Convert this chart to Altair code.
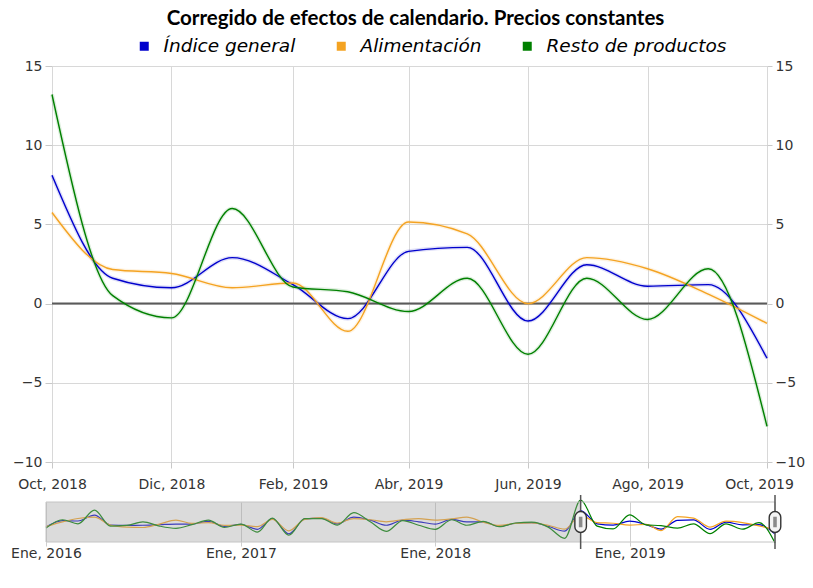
import altair as alt
import pandas as pd

# ---------------- data ----------------
series = ["Índice general", "Alimentación", "Resto de productos"]
colores = ["#0000cc", "#f4a322", "#008000"]

# months Jan 2016 .. Oct 2019
fechas = [f"{y}-{m:02d}-01T00:00:00" for y in range(2016, 2020) for m in range(1, 13)][:46]

indice = [0.0, 3.2, 3.0, 5.9, 1.0, 0.8, 0.9, 1.2, 1.5, 1.5, 2.8, 0.4,
          1.3, -1.1, 4.2, -3.3, 4.0, 4.4, 1.6, 4.9, 3.4, 0.9, 3.4, 2.6,
          1.5, 3.8, 2.6, 2.6, 0.4, 1.9, 2.2, 0.4, -2.0,
          8.1, 1.6, 1.0, 2.9, 1.2, -0.95, 3.3, 3.55, -1.1, 2.45, 1.1, 1.2, -3.45]
alimentacion = [0.3, 2.6, 4.2, 4.9, 1.0, 0.0, -0.2, 1.5, 3.4, 1.8, 2.2, 0.8,
                1.0, 0.2, 3.8, -1.8, 3.8, 4.6, 2.0, 4.2, 3.6, 2.6, 3.6, 4.2,
                3.4, 4.0, 4.9, 2.4, 0.8, 1.8, 2.0, 0.9, -1.0,
                5.75, 2.15, 1.9, 1.0, 1.3, -1.75, 5.15, 4.4, 0.0, 2.9, 2.2, 0.6, -1.25]
resto = [-0.5, 3.6, 1.6, 8.3, 0.5, 0.8, 2.6, 0.5, -0.6, 1.2, 3.4, -0.2,
         1.5, -2.5, 4.4, -4.0, 4.2, 4.2, 1.0, 7.1, 2.6, -2.1, 3.2, 0.9,
         -1.1, 3.6, 0.9, 2.8, 0.2, 2.0, 2.4, 0.0, -5.5,
         13.2, 0.5, -0.9, 6.0, 1.05, 0.75, -0.5, 1.6, -3.2, 1.6, -1.0, 2.2, -7.75]

inicio_zoom = "2018-10-01T00:00:00"
fin_zoom = "2019-10-01T00:00:00"

rows = []
for i, f in enumerate(fechas):
    for s, vals in zip(series, [indice, alimentacion, resto]):
        rows.append({"fecha": f, "serie": s, "valor": vals[i]})
nav_df = pd.DataFrame(rows)
main_df = nav_df[nav_df["fecha"] >= inicio_zoom].reset_index(drop=True)

LABEL = ("['Ene','Feb','Mar','Abr','May','Jun','Jul','Ago','Sep','Oct','Nov','Dic']"
         "[month(datum.value)] + ', ' + year(datum.value)")
FONT = "DejaVu Sans"
GRID = "#d8d8d8"
W = 715


def DT(y, m):
    return alt.DateTime(year=y, month=m, date=1)


color_scale = alt.Scale(domain=series, range=colores)
legend = alt.Legend(orient="none", legendX=83, legendY=-29,
                    direction="horizontal", title=None, gridAlign="none",
                    symbolType="M-1,0L1,0", symbolSize=81,
                    symbolStrokeWidth=9, symbolOpacity=1,
                    labelFont=FONT, labelFontSize=18.5, labelLimit=400,
                    labelFontStyle="italic", labelColor="#000000",
                    labelOffset=10, columnPadding=22, padding=0)
color_enc = alt.Color("serie:N", scale=color_scale, legend=legend)

# ---------------- main chart ----------------
x_main = alt.X(
    "fecha:T",
    scale=alt.Scale(domain=[DT(2018, 10), DT(2019, 10)]),
    axis=alt.Axis(values=[DT(2018, 10), DT(2018, 12), DT(2019, 2), DT(2019, 4),
                          DT(2019, 6), DT(2019, 8), DT(2019, 10)],
                  labelExpr=LABEL, title=None, grid=True, gridColor=GRID,
                  domain=False, tickSize=6, tickColor="#c8c8c8", labelPadding=9,
                  labelFont=FONT, labelFontSize=14, labelColor="#333333",
                  labelOffset={"condition": {"test": "year(datum.value) == 2019 && month(datum.value) == 9",
                                             "value": -8},
                               "value": 0},
                  labelFlush=False, labelOverlap=False),
)
y_scale = alt.Scale(domain=[-10, 15], nice=False, zero=False)
yvals = [-10, -5, 0, 5, 10, 15]

zero = alt.Chart(pd.DataFrame({"v": [0]})).mark_rule(color="#5a5a5a", strokeWidth=2).encode(
    y=alt.Y("v:Q", scale=y_scale, axis=None)
)

halo = alt.Chart(main_df).mark_line(interpolate="monotone", strokeWidth=4, opacity=0.13).encode(
    x=x_main,
    y=alt.Y("valor:Q", scale=y_scale,
            axis=alt.Axis(orient="right", values=yvals, grid=False, domain=False,
                          tickSize=5, tickColor="#c8c8c8", labelPadding=3,
                          labelFont=FONT, labelFontSize=14, labelColor="#333333", title=None)),
    color=color_enc,
)

lines = alt.Chart(main_df).mark_line(interpolate="monotone", strokeWidth=1.4).encode(
    x=x_main,
    y=alt.Y("valor:Q", scale=y_scale,
            axis=alt.Axis(orient="left", values=yvals, grid=True, gridColor=GRID, domain=False,
                          tickSize=7, tickColor="#c8c8c8", labelPadding=3,
                          labelFont=FONT, labelFontSize=14, labelColor="#333333", title=None)),
    color=color_enc,
)

main = alt.layer(zero, halo, lines).resolve_axis(y="independent").properties(width=W, height=396)

# ---------------- navigator ----------------
x_nav = alt.X(
    "fecha:T",
    scale=alt.Scale(domain=[DT(2016, 1), DT(2019, 10)], range=[-6, W + 8]),
    axis=alt.Axis(values=[DT(2016, 1), DT(2017, 1), DT(2018, 1), DT(2019, 1)],
                  labelExpr=LABEL, title=None, grid=True, gridColor="#cfcfcf",
                  domain=False, tickSize=4, tickColor="#cfcfcf", labelPadding=0,
                  labelFont=FONT, labelFontSize=14, labelColor="#333333",
                  labelFlush=False, labelOverlap=False),
)

nav_lines = alt.Chart(nav_df).mark_line(interpolate="monotone", strokeWidth=1.2).encode(
    x=x_nav,
    y=alt.Y("valor:Q", scale=alt.Scale(domain=[-7.3, 12.3], nice=False, zero=False), axis=None),
    color=color_enc,
)

mask_df = pd.DataFrame({"ini": [fechas[0]], "fin": [inicio_zoom]})
mask = alt.Chart(mask_df).mark_rect(fill="#a0a0a0", opacity=0.38).encode(
    x="ini:T", x2="fin:T"
)
outline_df = pd.DataFrame({"ini": [fechas[0]], "fin": [fin_zoom]})
outline = alt.Chart(outline_df).mark_rect(fillOpacity=0, stroke="#c4c4c4", strokeWidth=1).encode(
    x="ini:T", x2="fin:T"
)

handle_df = pd.DataFrame({"fecha": [inicio_zoom, fin_zoom]})
CAPSULE = "M-0.55,-0.45 A0.55,0.55 0 0 1 0.55,-0.45 L0.55,0.45 A0.55,0.55 0 0 1 -0.55,0.45 Z"
BAR = "M-0.17,-0.5 L0.17,-0.5 L0.17,0.5 L-0.17,0.5 Z"
h_rules = alt.Chart(handle_df).mark_rule(color="#555555", strokeWidth=1.5).encode(
    x="fecha:T", y=alt.value(-7), y2=alt.value(47)
)
h_caps = alt.Chart(handle_df).mark_point(shape=CAPSULE, size=441, filled=True, fill="#f4f4f4",
                                         stroke="#333333", strokeWidth=1.4, opacity=1).encode(
    x="fecha:T", y=alt.value(20)
)
h_bars = alt.Chart(handle_df).mark_point(shape=BAR, size=441, filled=True, fill="#8a8a8a",
                                         strokeWidth=0, opacity=1).encode(
    x="fecha:T", y=alt.value(20)
)

nav = alt.layer(nav_lines, mask, outline, h_rules, h_caps, h_bars).properties(width=W, height=40)

chart = alt.vconcat(
    main, nav, spacing=40, bounds="flush",
    title=alt.TitleParams("Corregido de efectos de calendario. Precios constantes",
                          font="Lato", fontSize=20.5, fontWeight="bold", color="#000000",
                          anchor="middle", frame="group", dx=6, offset=8),
).properties(
    padding={"left": 2, "top": 0, "right": 0, "bottom": 0}
).configure_view(stroke=None)

chart.save("out.html", embed_options={"renderer": "svg", "actions": False})
